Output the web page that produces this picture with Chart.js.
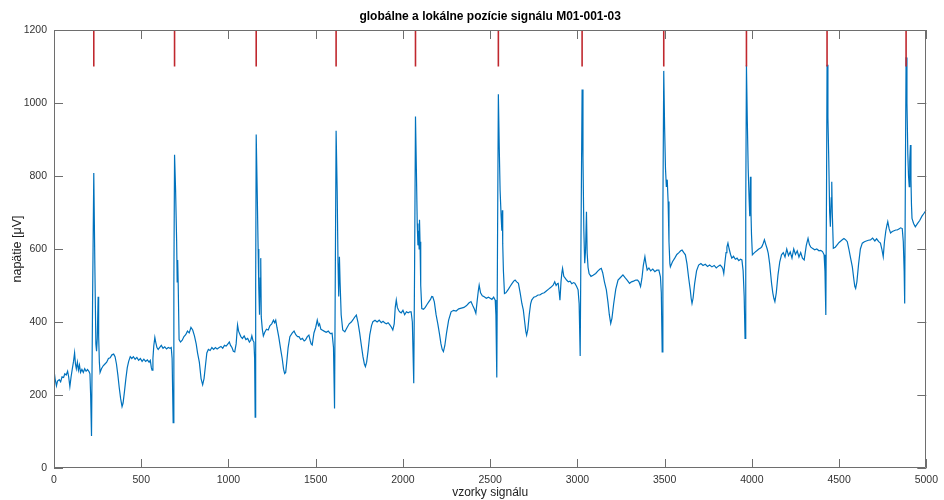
<!DOCTYPE html>
<html><head><meta charset="utf-8">
<script src="https://cdn.jsdelivr.net/npm/chart.js@4"></script>
<style>html,body{margin:0;padding:0;background:#fff}#wrap{width:944px;height:500px}</style>
</head><body><div id="wrap"><canvas id="c" width="944" height="500"></canvas></div>
<script>
// ECG signal: [sample index, voltage in µV]
const signal = [
[0,268],[6,245],[14,225],[20,238],[30,242],[38,236],[46,250],[55,248],[62,258],[70,255],[78,265],[84,250],[91,223],[98,250],[106,275],[112,292],[118,315],[123,285],[128,272],[134,290],[140,268],[146,282],[152,262],[160,270],[168,262],[176,272],[184,265],[192,270],[200,265],[206,258],[210,200],[215,88],[221,450],[228,808],[234,560],[240,340],[244,320],[248,355],[253,469],[256,360],[260,290],[264,262],[272,272],[282,280],[292,285],[302,290],[312,300],[322,302],[332,310],[342,312],[350,305],[358,285],[366,255],[374,220],[382,190],[390,168],[396,178],[404,210],[412,245],[420,275],[428,292],[437,305],[446,300],[455,305],[465,298],[475,303],[485,295],[495,300],[505,292],[515,298],[525,292],[535,296],[545,290],[552,295],[558,275],[562,268],[567,300],[572,335],[578,358],[583,345],[590,330],[597,325],[605,330],[615,336],[625,328],[635,332],[645,326],[655,330],[665,328],[672,330],[677,300],[683,124],[687,500],[691,858],
[697,760],[703,620],[706,510],[709,570],[712,500],[717,352],[725,345],[735,350],[745,360],[755,365],[765,375],[775,370],[785,385],[795,378],[805,362],[815,340],[823,315],[833,290],[843,245],[852,228],[860,245],[868,280],[876,315],[885,325],[895,322],[905,330],[915,325],[925,330],[935,326],[947,330],[957,333],[967,328],[977,336],[987,334],[997,340],[1005,345],[1012,336],[1020,330],[1028,320],[1036,318],[1044,340],[1052,392],[1058,375],[1064,368],[1071,360],[1080,355],[1090,362],[1100,352],[1110,355],[1120,345],[1128,350],[1134,362],[1140,350],[1146,345],[1150,300],[1153,139],[1156,500],[1159,914],
[1165,750],[1170,600],[1174,490],[1178,420],[1182,520],[1185,575],[1188,414],[1194,380],[1200,362],[1208,372],[1218,380],[1228,378],[1238,390],[1248,395],[1258,405],[1265,398],[1271,405],[1278,385],[1288,360],[1300,323],[1308,300],[1316,270],[1322,259],[1328,262],[1334,290],[1342,330],[1352,360],[1366,370],[1376,375],[1386,365],[1396,360],[1404,360],[1414,352],[1424,355],[1434,348],[1442,351],[1452,360],[1461,364],[1468,350],[1474,340],[1480,337],[1490,370],[1500,385],[1509,405],[1516,390],[1522,395],[1530,380],[1537,378],[1548,375],[1560,372],[1572,375],[1584,368],[1594,369],[1602,330],[1608,163],[1612,500],[1617,924],
[1623,760],[1628,560],[1632,470],[1636,579],[1640,506],[1646,420],[1655,378],[1667,373],[1680,385],[1692,395],[1704,400],[1716,408],[1726,415],[1733,419],[1742,400],[1752,370],[1762,335],[1771,305],[1779,285],[1785,278],[1792,290],[1800,320],[1810,365],[1820,390],[1828,401],[1840,405],[1852,400],[1864,405],[1876,398],[1886,402],[1895,398],[1905,395],[1915,398],[1925,392],[1935,385],[1942,378],[1950,395],[1956,440],[1962,460],[1968,440],[1975,432],[1981,428],[1990,425],[2000,432],[2010,420],[2020,428],[2030,425],[2040,428],[2047,428],[2054,400],[2062,232],[2067,560],[2072,963],
[2077,820],[2082,670],[2086,610],[2090,650],[2093,600],[2095,680],[2098,620],[2102,500],[2108,437],[2118,435],[2128,440],[2138,448],[2148,455],[2158,462],[2165,470],[2171,469],[2180,455],[2190,420],[2200,395],[2209,369],[2218,340],[2225,325],[2232,319],[2240,335],[2250,370],[2262,405],[2276,428],[2290,432],[2305,430],[2320,436],[2335,438],[2350,440],[2365,445],[2378,452],[2390,456],[2400,445],[2410,435],[2418,424],[2426,460],[2432,485],[2437,501],[2445,480],[2455,472],[2466,469],[2478,465],[2490,468],[2500,465],[2510,462],[2520,468],[2529,460],[2533,420],[2538,248],[2542,600],[2547,1024],
[2552,880],[2557,760],[2563,688],[2567,650],[2570,706],[2572,614],[2576,540],[2582,478],[2590,480],[2595,483],[2605,490],[2615,498],[2625,505],[2635,512],[2643,515],[2652,510],[2662,506],[2672,480],[2682,450],[2690,433],[2698,400],[2704,375],[2709,364],[2716,380],[2724,420],[2732,450],[2738,460],[2750,468],[2762,470],[2774,474],[2785,474],[2797,478],[2810,480],[2822,485],[2835,490],[2848,495],[2861,501],[2870,510],[2878,500],[2885,505],[2890,506],[2896,480],[2900,460],[2906,510],[2911,535],[2915,547],[2922,525],[2930,520],[2938,515],[2948,510],[2958,512],[2968,505],[2978,508],[2985,506],[2995,498],[3004,488],[3010,450],[3016,307],[3021,650],[3027,1037],
[3032,850],[3037,650],[3042,561],[3047,600],[3052,702],[3056,589],[3061,550],[3067,533],[3078,525],[3090,528],[3105,533],[3118,540],[3130,545],[3137,547],[3145,535],[3155,510],[3166,488],[3175,455],[3183,420],[3191,396],[3198,410],[3208,450],[3220,490],[3233,515],[3247,522],[3261,529],[3272,522],[3285,515],[3299,506],[3310,510],[3322,512],[3335,515],[3345,515],[3353,510],[3362,497],[3370,520],[3378,555],[3387,579],[3393,560],[3400,542],[3410,548],[3420,540],[3432,545],[3444,538],[3455,542],[3467,542],[3476,524],[3481,480],[3486,318],[3490,700],[3495,1088],
[3500,930],[3505,820],[3510,770],[3515,790],[3520,730],[3525,620],[3530,560],[3533,551],[3545,565],[3558,575],[3570,585],[3582,590],[3592,595],[3600,597],[3610,590],[3619,584],[3628,560],[3638,520],[3647,488],[3652,465],[3657,451],[3663,465],[3672,505],[3683,540],[3695,556],[3708,560],[3720,555],[3733,558],[3746,552],[3758,556],[3771,551],[3784,555],[3796,548],[3808,553],[3818,556],[3828,551],[3834,545],[3839,533],[3846,565],[3852,590],[3857,605],[3863,616],[3870,600],[3878,585],[3885,575],[3895,580],[3905,572],[3915,575],[3925,568],[3935,572],[3943,570],[3950,540],[3956,470],[3961,355],[3965,720],[3969,1104],
[3974,950],[3979,820],[3984,740],[3988,690],[3992,798],[3995,700],[3998,640],[4003,584],[4015,590],[4028,595],[4040,600],[4050,603],[4057,606],[4065,615],[4072,625],[4080,612],[4088,600],[4094,588],[4102,560],[4108,530],[4113,506],[4120,480],[4126,465],[4132,456],[4140,480],[4150,530],[4160,565],[4170,584],[4180,590],[4190,578],[4200,600],[4210,582],[4220,592],[4230,575],[4240,600],[4250,585],[4260,595],[4270,578],[4280,590],[4290,575],[4300,570],[4306,590],[4312,610],[4322,629],[4330,612],[4338,605],[4347,602],[4360,598],[4372,600],[4385,595],[4395,596],[4405,593],[4414,584],[4419,540],[4424,419],[4428,760],[4431,1105],
[4436,960],[4441,840],[4446,700],[4450,661],[4455,740],[4458,784],[4461,700],[4467,602],[4478,605],[4490,612],[4500,618],[4510,622],[4520,626],[4528,629],[4538,625],[4547,620],[4556,600],[4566,575],[4576,551],[4585,515],[4590,498],[4595,492],[4602,510],[4612,560],[4622,600],[4633,616],[4645,620],[4656,622],[4668,624],[4680,625],[4692,630],[4705,622],[4715,628],[4727,620],[4737,616],[4745,600],[4753,579],[4760,620],[4768,650],[4774,665],[4779,675],[4787,655],[4795,644],[4805,648],[4815,650],[4825,652],[4833,652],[4843,655],[4853,658],[4862,656],[4868,620],[4873,540],[4876,451],[4880,800],[4884,1125],
[4889,1000],[4894,860],[4898,800],[4902,771],[4905,840],[4909,885],[4912,790],[4915,720],[4918,684],[4927,670],[4937,661],[4950,670],[4962,678],[4975,690],[4987,698],[5000,707]
];
// detected R-peak positions (red markers at the top)
const peakPositions = [228, 691, 1159, 1617, 2072, 2547, 3027, 3495, 3969, 4431, 4884];
const markerBottom = 1100;
const markerTop = 1200;
const xTicks = [0, 500, 1000, 1500, 2000, 2500, 3000, 3500, 4000, 4500, 5000];
const yTicks = [0, 200, 400, 600, 800, 1000, 1200];

const FONT = '"Liberation Sans", Arial, Helvetica, sans-serif';
Chart.defaults.font.family = FONT;

const signalPoints = signal.map(p => ({x: p[0], y: p[1]}));
const markerPoints = peakPositions.flatMap(p => [{x: p, y: markerBottom}, {x: p, y: markerTop}, {x: p, y: null}]);

const AXIS = '#6e6e6e';
const boxTicks = {
  id: 'boxTicks',
  afterLayout(chart) {
    // centre the title over the plot area (as in the original figure)
    const t = chart.titleBlock, a = chart.chartArea;
    if (t && a) { t.left = a.left; t.right = a.right; t.width = a.right - a.left; }
  },
  afterDatasetsDraw(chart) {
    const {ctx, chartArea: a, scales: {x, y}} = chart;
    ctx.save();
    ctx.strokeStyle = AXIS;
    ctx.lineWidth = 1;
    ctx.beginPath();
    ctx.rect(Math.round(a.left) + 0.5, Math.round(a.top) + 0.5, Math.round(a.right - a.left) - 1, Math.round(a.bottom - a.top) - 1);
    const L = 9;
    xTicks.forEach(v => {
      const px = Math.round(x.getPixelForValue(v)) + 0.5;
      ctx.moveTo(px, a.bottom); ctx.lineTo(px, a.bottom - L);
      ctx.moveTo(px, a.top); ctx.lineTo(px, a.top + L);
    });
    yTicks.forEach(v => {
      const py = Math.round(y.getPixelForValue(v)) + 0.5;
      ctx.moveTo(a.left, py); ctx.lineTo(a.left + L, py);
      ctx.moveTo(a.right, py); ctx.lineTo(a.right - L, py);
    });
    ctx.stroke();
    ctx.restore();
  }
};

new Chart(document.getElementById('c'), {
  type: 'line',
  data: {
    datasets: [
      {data: markerPoints, borderColor: '#c0282e', borderWidth: 1.6, pointRadius: 0, spanGaps: false, order: 0},
      {data: signalPoints, borderColor: '#0072BD', borderWidth: 1.2, pointRadius: 0, order: 1}
    ]
  },
  options: {
    responsive: false,
    animation: false,
    events: [],
    layout: {padding: {left: 0, right: 14, top: 0, bottom: 0}},
    elements: {line: {tension: 0}, point: {radius: 0}},
    plugins: {
      legend: {display: false},
      tooltip: {enabled: false},
      title: {
        display: true,
        text: 'globálne a lokálne pozície signálu M01-001-03',
        color: '#000',
        font: {family: FONT, size: 12, weight: 'bold'},
        padding: {top: 9, bottom: 6.6}
      }
    },
    scales: {
      x: {
        type: 'linear', min: 0, max: 5000,
        afterFit(s) { s.height = 32; },
        afterBuildTicks(s) { s.ticks = xTicks.map(v => ({value: v})); },
        ticks: {padding: 6, color: '#333', font: {size: 10.5}, maxRotation: 0, autoSkip: false, callback: v => String(v)},
        grid: {drawOnChartArea: false, drawTicks: false},
        border: {display: false},
        title: {display: true, text: 'vzorky signálu', color: '#222', font: {size: 12}, padding: {top: 0, bottom: 0}}
      },
      y: {
        type: 'linear', min: 0, max: 1200,
        afterFit(s) { s.width = 54; },
        afterBuildTicks(s) { s.ticks = yTicks.map(v => ({value: v})); },
        ticks: {padding: 7, color: '#333', font: {size: 10.5}, autoSkip: false, callback: v => String(v)},
        grid: {drawOnChartArea: false, drawTicks: false},
        border: {display: false},
        title: {display: true, text: 'napätie [μV]', color: '#222', font: {size: 12.5}, padding: {top: 10, bottom: 0}}
      }
    }
  },
  plugins: [boxTicks]
});
</script>
</body></html>
